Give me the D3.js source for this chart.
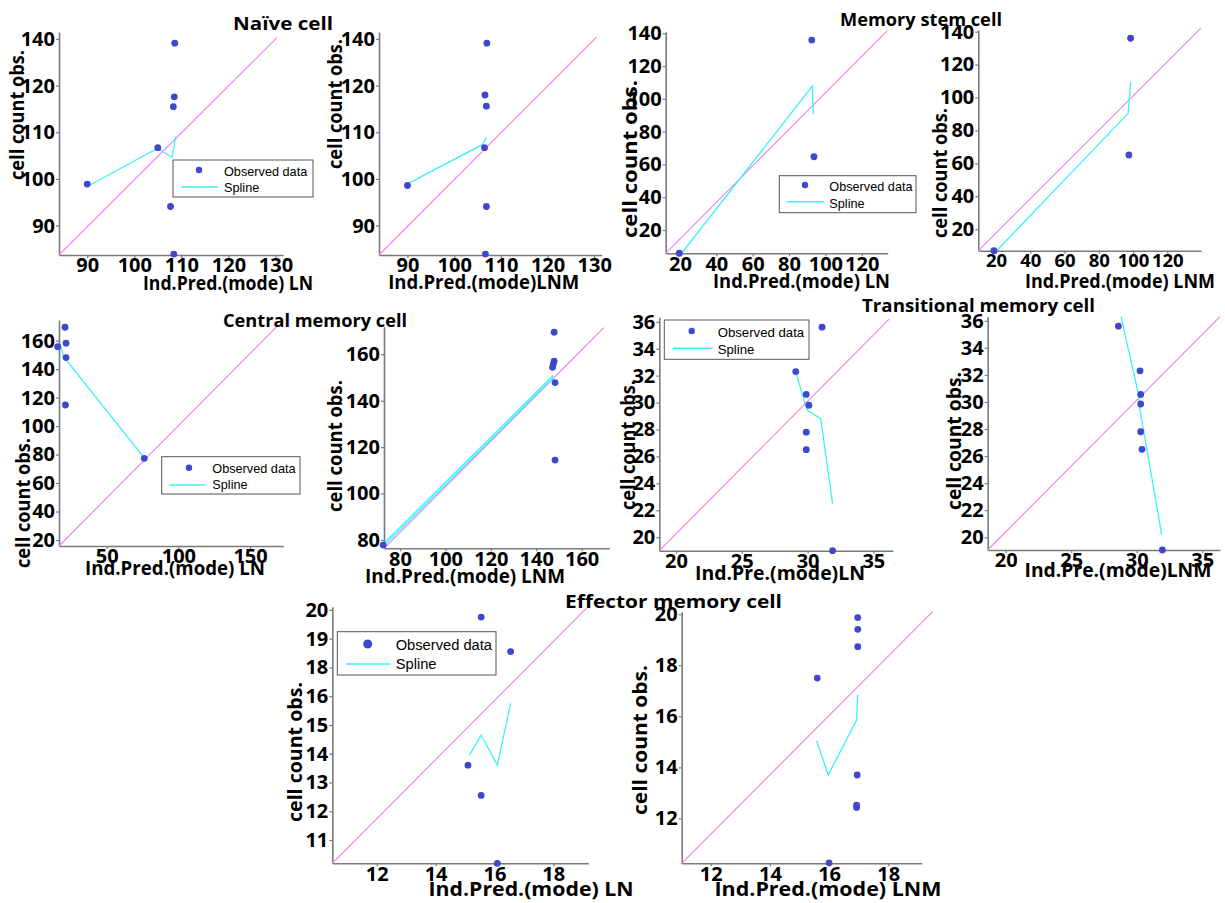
<!DOCTYPE html>
<html><head><meta charset="utf-8">
<script src="https://cdn.jsdelivr.net/npm/d3@7"></script>
<style>
body{margin:0;background:#fff;}
svg{display:block;}
.tick text{font-family:"Open Sans",sans-serif;font-weight:700;font-size:20px;fill:#000;}
.domain{stroke:#7a7a7a;stroke-width:1.6;}
.tick line{stroke:#7a7a7a;stroke-width:1.2;}
.title,.ylab,.xlab{font-family:"Open Sans",sans-serif;font-weight:700;fill:#000;}
.leg{font-family:"Liberation Sans",Arial,sans-serif;fill:#000;}
</style></head><body><svg id="chart" width="1225" height="903"></svg>
<script>
// ---------------- DATA ----------------
const panelTitles = ["Naïve cell","Memory stem cell","Central memory cell","Transitional memory cell","Effector memory cell"];
const yAxisLabel = "cell count obs.";
const xAxisLabels = ["Ind.Pred.(mode) LN","Ind.Pred.(mode)LNM","Ind.Pred.(mode) LN","Ind.Pred.(mode) LNM",
  "Ind.Pred.(mode) LN","Ind.Pred.(mode) LNM","Ind.Pre.(mode)LN","Ind.Pre.(mode)LNM",
  "Ind.Pred.(mode) LN","Ind.Pred.(mode) LNM"];
const legendLabels = ["Observed data","Spline"];

// tick values / labels
const naiveXTicks = [90,100,110,120,130];
const naiveYTicks = [90,100,110,120,130];
const naiveYTickLabels = ["90","100","110","120","140"];
const stemXTicks = [20,40,60,80,100,120];
const stemYTicks = [20,40,60,80,100,120,140];
const centralLNXTicks = [50,100,150];
const centralLNYTicks = [20,40,60,80,100,120,140,160];
const centralLNMXTicks = [80,100,120,140,160];
const centralLNMYTicks = [80,100,120,140,160];
const transXTicks = [20,25,30,35];
const transYTicks = [20,22,24,26,28,30,32,34,36];
const effXTicks = [12,14,16,18];
const effLNYTicks = [11,12,13,14,15,16,17,18,19];
const effLNYTickLabels = ["11","12","13","14","15","16","18","19","20"];
const effLNMYTicks = [12,14,16,18,20];

// Naive cell
const naiveLN_obs = [[90,98.9],[105,106.7],[107.7,94.1],[108.4,83.9],[108.3,115.5],[108.5,117.6],[108.6,129.1]];
const naiveLN_spline = [[90.4,98.6],[105,106.6],[108,104.6],[108.8,109.1]];
const naiveLN_diag = [[84,83.7],[130.3,130.3]];
const naiveLNM_obs = [[90,98.6],[106.5,106.7],[106.9,94.1],[106.7,83.9],[106.9,115.6],[106.6,118],[107,129.1]];
const naiveLNM_spline = [[89.9,98.9],[106.1,107.4],[106.9,108.9]];
const naiveLNM_diag = [[83.9,83.7],[130.5,130.4]];
// Memory stem cell
const stemLN_obs = [[19.6,5.8],[92.5,135.9],[93.7,64.7]];
const stemLN_spline = [[20.9,5.8],[92.8,107.8],[93.4,90.7]];
const stemLN_diag = [[12.1,5.8],[134.1,141.6]];
const stemLNM_obs = [[18.8,7.0],[98.6,136.0],[97.6,65.1]];
const stemLNM_spline = [[20.4,7.0],[97.2,90.4],[98.6,109.6]];
const stemLNM_diag = [[9.7,7.0],[139.7,142.1]];
// Central memory cell
const centralLN_obs = [[15.8,155.8],[20.9,169.4],[21.6,158.2],[21.6,148.1],[21.2,114.8],[76.2,77.4]];
const centralLN_spline = [[16.2,156.3],[18.1,155.8],[19.9,148.8],[75.5,78.5],[76.2,77.4]];
const centralLN_diag = [[16.7,15.8],[168.6,169.8]];
const centralLNM_obs = [[72.6,77.8],[147.9,169.5],[147.9,157.1],[147.5,155.8],[147.2,154.4],[148.3,147.8],[148.3,114.4]];
const centralLNM_spline = [[73.4,79.0],[147.2,150.7],[147.5,150.0],[73.8,78.3]];
const centralLNM_diag = [[73,76.4],[169.8,171.5]];
// Transitional memory cell
const transLN_obs = [[29.1,32.3],[29.9,30.6],[30.1,29.8],[29.9,27.8],[29.9,26.5],[31.1,35.6],[31.9,19.0]];
const transLN_spline = [[29.1,32.3],[29.8,29.9],[30.0,29.4],[31.0,28.8],[31.9,22.5]];
const transLN_diag = [[18.73,19.0],[36.2,36.2]];
const transLNM_obs = [[28.6,35.6],[30.25,32.3],[30.3,30.55],[30.3,29.85],[30.3,27.8],[30.4,26.5],[31.95,19.06]];
const transLNM_spline = [[28.8,36.3],[30.1,30.7],[30.25,29.4],[31.9,20.2]];
const transLNM_diag = [[18.63,19.06],[36.35,36.3]];
// Effector memory cell
const effLN_obs = [[15.1,13.6],[15.55,12.55],[15.55,18.75],[16.55,17.55],[16.1,10.19]];
const effLN_spline = [[15.15,13.95],[15.55,14.65],[16.1,13.6],[16.55,15.75]];
const effLN_diag = [[10.49,10.19],[19.13,19.06]];
const effLNM_obs = [[15.6,17.5],[16.97,19.87],[16.97,19.41],[16.97,18.73],[16.95,13.7],[16.93,12.52],[16.93,12.43],[16.0,10.26]];
const effLNM_spline = [[15.58,15.04],[15.97,13.7],[16.93,15.85],[16.97,16.86]];
const effLNM_diag = [[11.02,10.24],[19.5,20.1]];

// ---------------- LAYOUT ----------------
const panels = [
 {obs:naiveLN_obs, spline:naiveLN_spline, diag:naiveLN_diag, xTicks:naiveXTicks, yTicks:naiveYTicks, yTickLabels:naiveYTickLabels,
  xLabel:xAxisLabels[0], box:[59,283,32,255], xDom:[84,131.6], yDom:[83.7,131.5], yLab:[17,115,130], xLab:[228,290,170],
  legend:{x:173,y:160,w:140,h:37,dx:199,dy:170,lx1:181,lx2:218,ly:187,tx:224,t1:175.5,t2:192,fs:12.7,r:3.2}},
 {obs:naiveLNM_obs, spline:naiveLNM_spline, diag:naiveLNM_diag, xTicks:naiveXTicks, yTicks:naiveYTicks, yTickLabels:naiveYTickLabels,
  xLabel:xAxisLabels[1], box:[379,601.7,32,255], xDom:[83.9,131.6], yDom:[83.7,131.5], yLab:[335,104,130], xLab:[483.7,289,191]},
 {obs:stemLN_obs, spline:stemLN_spline, diag:stemLN_diag, xTicks:stemXTicks, yTicks:stemYTicks,
  xLabel:xAxisLabels[2], box:[665.7,887.7,31.7,253.3], xDom:[12.13,134.3], yDom:[5.78,141], yLab:[630,159,158], xLab:[801.5,288,177],
  legend:{x:779.3,y:175.7,w:136.7,h:37,dx:805,dy:185,lx1:786.7,lx2:824.3,ly:201.7,tx:829.3,t1:191,t2:208,fs:12.7,r:3.2}},
 {obs:stemLNM_obs, spline:stemLNM_spline, diag:stemLNM_diag, xTicks:stemXTicks, yTicks:stemYTicks, xTickFs:18.5,
  xLabel:xAxisLabels[3], box:[978.3,1201,30,250.7], xDom:[9.67,139.7], yDom:[7.0,141], yLab:[940,173,130], xLab:[1120,288,190]},
 {obs:centralLN_obs, spline:centralLN_spline, diag:centralLN_diag, xTicks:centralLNXTicks, yTicks:centralLNYTicks,
  xLabel:xAxisLabels[4], box:[59,283.3,320,546], xDom:[16.7,173.2], yDom:[15.8,174.5], yLab:[23,503,130], xLab:[175,575,180],
  legend:{x:161.7,y:456.7,w:138.3,h:37.3,dx:189,dy:467.7,lx1:169.3,lx2:205,ly:485,tx:212.3,t1:473,t2:489,fs:12.7,r:3.2}},
 {obs:centralLNM_obs, spline:centralLNM_spline, diag:centralLNM_diag, xTicks:centralLNMXTicks, yTicks:centralLNMYTicks,
  xLabel:xAxisLabels[5], box:[384,609.3,326.7,548.3], xDom:[72.95,172.2], yDom:[76.4,171.9], yLab:[335,446,132], xLab:[465,583,200]},
 {obs:transLN_obs, spline:transLN_spline, diag:transLN_diag, xTicks:transXTicks, yTicks:transYTicks,
  xLabel:xAxisLabels[6], box:[659.3,892.7,317.3,550.7], xDom:[18.73,36.47], yDom:[19.0,36.33], yLab:[628,445,130], xLab:[780,580,170],
  legend:{x:664.3,y:320,w:144.7,h:39.3,dx:691.7,dy:331,lx1:672.7,lx2:712.7,ly:348.3,tx:717.7,t1:336.5,t2:353.5,fs:13.2,r:3.2}},
 {obs:transLNM_obs, spline:transLNM_spline, diag:transLNM_diag, xTicks:transXTicks, yTicks:transYTicks,
  xLabel:xAxisLabels[7], box:[987.7,1220,316.7,550], xDom:[18.63,36.35], yDom:[19.06,36.3], yLab:[954,441,138], xLab:[1118,577,187]},
 {obs:effLN_obs, spline:effLN_spline, diag:effLN_diag, xTicks:effXTicks, yTicks:effLNYTicks, yTickLabels:effLNYTickLabels,
  xLabel:xAxisLabels[8], box:[332.3,588.3,606.7,863.3], xDom:[10.49,19.19], yDom:[10.19,19.11], yLab:[295,752,140], xLab:[531,896,205],
  legend:{x:337.3,y:631.7,w:158.7,h:43.3,dx:367.7,dy:644,lx1:346,lx2:390.7,ly:664,tx:395.7,t1:650,t2:669,fs:14.7,r:4.5}},
 {obs:effLNM_obs, spline:effLNM_spline, diag:effLNM_diag, xTicks:effXTicks, yTicks:effLNMYTicks,
  xLabel:xAxisLabels[9], box:[681.7,921.7,611.7,863.3], xDom:[11.02,19.13], yDom:[10.24,20.1], yLab:[640,740,150], xLab:[828,896,227]}
];
const titleLayout = [[283,29.5,100],[921,26,162],[315,327,184],[978.5,311.7,233],[673.5,607.7,217]];

// ---------------- DRAW ----------------
const svg = d3.select("#chart");
const lineGen = (x,y) => d3.line().x(d=>x(d[0])).y(d=>y(d[1]));

panels.forEach(p => {
  const [l,r,t,b] = p.box;
  const x = d3.scaleLinear().domain(p.xDom).range([l,r]);
  const y = d3.scaleLinear().domain(p.yDom).range([b,t]);
  const g = svg.append("g");

  const ya = d3.axisLeft(y).tickValues(p.yTicks).tickSize(3).tickSizeOuter(0).tickPadding(1)
    .tickFormat(p.yTickLabels ? ((d,i)=>p.yTickLabels[i]) : d3.format("d"));
  g.append("g").attr("transform",`translate(${l},0)`).call(ya);
  const xa = d3.axisBottom(x).tickValues(p.xTicks).tickSize(3).tickSizeOuter(0).tickPadding(0).tickFormat(d3.format("d"));
  const xg = g.append("g").attr("transform",`translate(0,${b})`).call(xa);
  if (p.xTickFs) xg.selectAll(".tick text").style("font-size", p.xTickFs + "px");

  g.append("path").datum(p.diag).attr("d", lineGen(x,y)).attr("fill","none")
    .attr("stroke","#f07ef0").attr("stroke-width",1.1);
  g.append("path").datum(p.spline).attr("d", lineGen(x,y)).attr("fill","none")
    .attr("stroke","#3cf2fa").attr("stroke-width",1.3);
  g.selectAll("circle.obs").data(p.obs).join("circle").attr("class","obs")
    .attr("cx",d=>x(d[0])).attr("cy",d=>y(d[1])).attr("r",3.4).attr("fill","#3f47cc");

  // y label
  g.append("text").attr("class","ylab")
    .attr("transform",`translate(${p.yLab[0]},${p.yLab[1]}) rotate(-90)`)
    .attr("text-anchor","middle").attr("dominant-baseline","central")
    .attr("font-size",19).attr("textLength",p.yLab[2]).attr("lengthAdjust","spacingAndGlyphs")
    .text(yAxisLabel);
  // x label
  g.append("text").attr("class","xlab")
    .attr("x",p.xLab[0]).attr("y",p.xLab[1]).attr("text-anchor","middle")
    .attr("font-size",20).attr("textLength",p.xLab[2]).attr("lengthAdjust","spacingAndGlyphs")
    .text(p.xLabel);

  if (p.legend) {
    const L = p.legend;
    const lg = g.append("g");
    lg.append("rect").attr("x",L.x).attr("y",L.y).attr("width",L.w).attr("height",L.h)
      .attr("fill","#fff").attr("stroke","#555").attr("stroke-width",1);
    lg.append("circle").attr("cx",L.dx).attr("cy",L.dy).attr("r",L.r).attr("fill","#3f47cc");
    lg.append("line").attr("x1",L.lx1).attr("x2",L.lx2).attr("y1",L.ly).attr("y2",L.ly)
      .attr("stroke","#3cf2fa").attr("stroke-width",1.5);
    lg.append("text").attr("class","leg").attr("x",L.tx).attr("y",L.t1).attr("font-size",L.fs).text(legendLabels[0]);
    lg.append("text").attr("class","leg").attr("x",L.tx).attr("y",L.t2).attr("font-size",L.fs).text(legendLabels[1]);
  }
});

panelTitles.forEach((t,i) => {
  const [cx,by,w] = titleLayout[i];
  svg.append("text").attr("class","title").attr("x",cx).attr("y",by).attr("text-anchor","middle")
    .attr("font-size",18.5).attr("textLength",w).attr("lengthAdjust","spacingAndGlyphs").text(t);
});
</script></body></html>
